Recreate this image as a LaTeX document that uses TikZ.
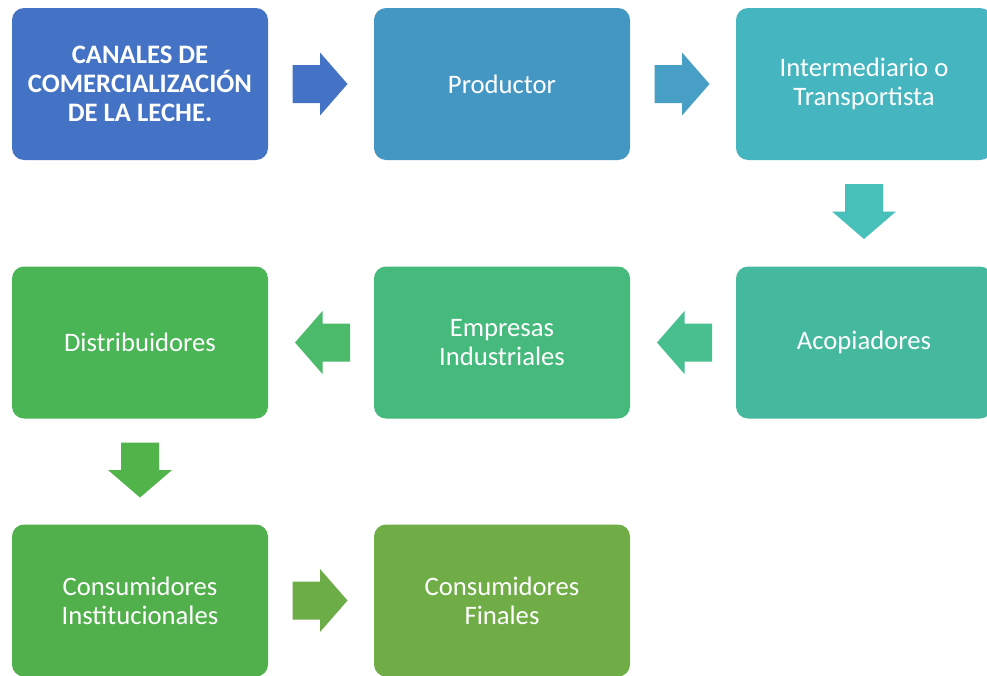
\documentclass[tikz,border=0pt]{standalone}
\usepackage{fontspec}
\setmainfont{Carlito}
\definecolor{c1}{HTML}{4472C4}
\definecolor{c2}{HTML}{4497C2}
\definecolor{c3}{HTML}{45B6BF}
\definecolor{c4}{HTML}{44B99E}
\definecolor{c5}{HTML}{45BA7C}
\definecolor{c6}{HTML}{49B555}
\definecolor{c7}{HTML}{51B04B}
\definecolor{c8}{HTML}{70AD47}
\definecolor{a1}{HTML}{4472C4}
\definecolor{a2}{HTML}{489FC5}
\definecolor{a3}{HTML}{48C0BA}
\definecolor{a4}{HTML}{48BF8F}
\definecolor{a5}{HTML}{4BBA6A}
\definecolor{a6}{HTML}{50B44A}
\definecolor{a7}{HTML}{6DAD48}
\tikzset{
  box/.style={rectangle, rounded corners=9pt, minimum width=192pt, minimum height=114pt,
    inner sep=0pt, text=white, align=center,
    font=\fontsize{20pt}{21.75pt}\selectfont},
  rarrow/.pic={\fill[pic actions] (-27.5,-19) -- (0,-19) -- (0,-31.5) -- (27.5,0) -- (0,31.5) -- (0,19) -- (-27.5,19) -- cycle;},
  larrow/.pic={\fill[pic actions] (27.5,-19) -- (0,-19) -- (0,-31.5) -- (-27.5,0) -- (0,31.5) -- (0,19) -- (27.5,19) -- cycle;},
  darrow/.pic={\fill[pic actions] (-19,-27.5) -- (-19,0) -- (-32,0) -- (0,27.5) -- (32,0) -- (19,0) -- (19,-27.5) -- cycle;}
}
\begin{document}
\begin{tikzpicture}[x=0.75pt,y=-0.75pt]
\useasboundingbox (0,0) rectangle (987,675);
\clip (0,0) rectangle (987,675);
\fill[white] (0,0) rectangle (987,675);
\node[box, fill=c1, font=\fontsize{20pt}{21.75pt}\selectfont\bfseries] (n1) at (140,84) {CANALES DE\\COMERCIALIZACIÓN\\DE LA LECHE.};
\node[box, fill=c2] (n2) at (502,84) {Productor};
\node[box, fill=c3] (n3) at (864,84) {Intermediario o\\Transportista};
\node[box, fill=c4] (n4) at (864,342.5) {Acopiadores};
\node[box, fill=c5] (n5) at (502,342.5) {Empresas\\Industriales};
\node[box, fill=c6] (n6) at (140,342.5) {Distribuidores};
\node[box, fill=c7] (n7) at (140,600.5) {Consumidores\\Institucionales};
\node[box, fill=c8] (n8) at (502,600.5) {Consumidores\\Finales};
\pic[fill=a1] at (320,84) {rarrow};
\pic[fill=a2] at (682,84) {rarrow};
\pic[fill=a3] at (864,211.5) {darrow};
\pic[fill=a4] at (684.5,342.5) {larrow};
\pic[fill=a5] at (322.5,342.5) {larrow};
\pic[fill=a6] at (140,470) {darrow};
\pic[fill=a7] at (320,600.5) {rarrow};
\end{tikzpicture}
\end{document}
